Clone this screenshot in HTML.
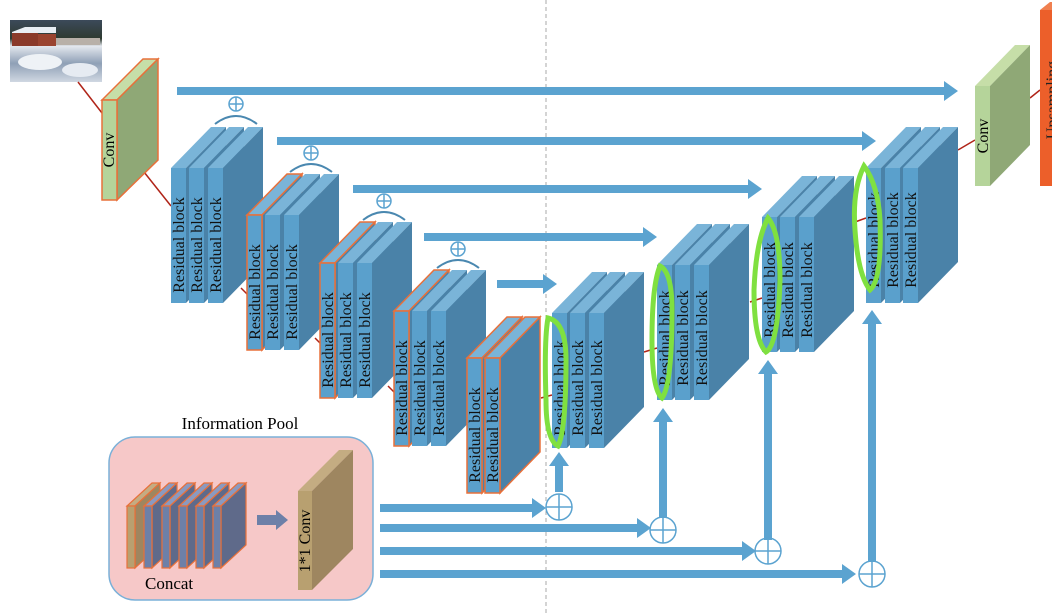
<!DOCTYPE html>
<html><head><meta charset="utf-8"><style>
html,body{margin:0;padding:0;background:#fff;}
svg{display:block;font-family:"Liberation Serif",serif;}
</style></head><body>
<svg width="1052" height="616" viewBox="0 0 1052 616" xmlns="http://www.w3.org/2000/svg">
<defs>
<linearGradient id="sky" x1="0" y1="0" x2="0" y2="1">
<stop offset="0" stop-color="#3c4a5a"/><stop offset="0.3" stop-color="#2e3a30"/><stop offset="0.42" stop-color="#e4e8ee"/><stop offset="0.7" stop-color="#8fa0b6"/><stop offset="1" stop-color="#d0d8e2"/></linearGradient>
</defs>
<line x1="546" y1="0" x2="546" y2="616" stroke="#aaa" stroke-dasharray="4,3" stroke-width="1"/>
<!-- image -->
<rect x="10" y="20" width="92" height="62" fill="url(#sky)"/>
<rect x="12" y="32" width="26" height="14" fill="#8a3a2a"/>
<polygon points="12,32 25,27 56,27 56,33 12,33" fill="#e8eef4"/>
<rect x="38" y="34" width="18" height="12" fill="#9a4430"/>
<rect x="56" y="38" width="44" height="7" fill="#b8b0a8"/>
<ellipse cx="40" cy="62" rx="22" ry="8" fill="#eef2f6"/>
<ellipse cx="80" cy="70" rx="18" ry="7" fill="#e6ebf2"/>
<!-- red lines -->
<g stroke="#b02418" stroke-width="1.5" fill="none">
<line x1="78" y1="82" x2="102" y2="113"/>
<line x1="144" y1="172" x2="171" y2="206"/>
<line x1="241" y1="288" x2="247" y2="294"/>
<line x1="315" y1="338" x2="320" y2="343"/>
<line x1="388" y1="386" x2="394" y2="392"/>
<line x1="541" y1="398" x2="552" y2="395"/>
<line x1="644" y1="352" x2="657" y2="348"/>
<line x1="750" y1="302" x2="762" y2="298"/>
<line x1="855" y1="222" x2="866" y2="218"/>
<line x1="958" y1="150" x2="975" y2="140"/>
<line x1="1030" y1="98" x2="1040" y2="90"/>
</g>
<!-- left conv -->
<g stroke="#e8703a" stroke-width="1.5">
<polygon points="102,100 143,59 158,59 117,100" fill="#c6dea8"/>
<polygon points="117,100 158,59 158,160 117,200" fill="#8fa876"/>
<rect x="102" y="100" width="15" height="100" fill="#b5d49a"/>
</g>
<text x="0" y="0" font-size="16" transform="translate(114,150) rotate(-90)" text-anchor="middle">Conv</text>
<!-- right conv -->
<polygon points="975,86 1015,45 1030,45 990,86" fill="#c6dea8"/>
<polygon points="990,86 1030,45 1030,145 990,186" fill="#8fa876"/>
<rect x="975" y="86" width="15" height="100" fill="#b5d49a"/>
<text font-size="16" transform="translate(988,136) rotate(-90)" text-anchor="middle">Conv</text>
<!-- upsampling -->
<polygon points="1040,10 1050,2 1052,2 1052,10" fill="#f08050"/>
<rect x="1040" y="10" width="12" height="176" fill="#ec5f2a"/>
<text font-size="16" transform="translate(1057,100) rotate(-90)" text-anchor="middle" fill="#222">Upsampling</text>

<!-- arrows -->
<g fill="#5ba3d0">
<polygon points="177,87 944,87 944,81 958,91 944,101 944,95 177,95"/>
<polygon points="277,137 862,137 862,131 876,141 862,151 862,145 277,145"/>
<polygon points="353,185 748,185 748,179 762,189 748,199 748,193 353,193"/>
<polygon points="424,233 643,233 643,227 657,237 643,247 643,241 424,241"/>
<polygon points="497,280 543,280 543,274 557,284 543,294 543,288 497,288"/>
<polygon points="380,504 532,504 532,498 546,508 532,518 532,512 380,512"/>
<polygon points="380,524 637,524 637,518 651,528 637,538 637,532 380,532"/>
<polygon points="380,547 742,547 742,541 756,551 742,561 742,555 380,555"/>
<polygon points="380,570 842,570 842,564 856,574 842,584 842,578 380,578"/>
<polygon points="555,492 555,466 549,466 559,452 569,466 563,466 563,492"/>
<polygon points="659,518 659,422 653,422 663,408 673,422 667,422 667,518"/>
<polygon points="764,540 764,374 758,374 768,360 778,374 772,374 772,540"/>
<polygon points="868,562 868,324 862,324 872,310 882,324 876,324 876,562"/>
</g>
<g fill="none" stroke="#5ba3d0" stroke-width="1.5">
<circle cx="559" cy="507" r="13"/><line x1="546" y1="507" x2="572" y2="507"/><line x1="559" y1="494" x2="559" y2="520"/>
<circle cx="663" cy="530" r="13"/><line x1="650" y1="530" x2="676" y2="530"/><line x1="663" y1="517" x2="663" y2="543"/>
<circle cx="768" cy="551" r="13"/><line x1="755" y1="551" x2="781" y2="551"/><line x1="768" y1="538" x2="768" y2="564"/>
<circle cx="872" cy="574" r="13"/><line x1="859" y1="574" x2="885" y2="574"/><line x1="872" y1="561" x2="872" y2="587"/>
<circle cx="236" cy="104" r="7"/><line x1="229" y1="104" x2="243" y2="104"/><line x1="236" y1="97" x2="236" y2="111"/>
<circle cx="311" cy="153" r="7"/><line x1="304" y1="153" x2="318" y2="153"/><line x1="311" y1="146" x2="311" y2="160"/>
<circle cx="384" cy="201" r="7"/><line x1="377" y1="201" x2="391" y2="201"/><line x1="384" y1="194" x2="384" y2="208"/>
<circle cx="458" cy="249" r="7"/><line x1="451" y1="249" x2="465" y2="249"/><line x1="458" y1="242" x2="458" y2="256"/>
</g>
<g fill="none" stroke="#4a88b0" stroke-width="2">
<path d="M215,124 Q236,108 257,124"/><path d="M290,172 Q311,156 332,172"/><path d="M363,220 Q384,204 405,220"/><path d="M437,268 Q458,252 479,268"/>
</g>

<!-- slabs -->
<g stroke-width="1.5">
<polygon points="171,168 211,127 226,127 186,168" fill="#7ab4d8"/><polygon points="186,168 226,127 226,262 186,303" fill="#4a82a8"/><rect x="171" y="168" width="15" height="135" fill="#5aa0cc"/>
<polygon points="189,168 229,127 244,127 204,168" fill="#7ab4d8"/><polygon points="204,168 244,127 244,262 204,303" fill="#4a82a8"/><rect x="189" y="168" width="15" height="135" fill="#5aa0cc"/>
<polygon points="208,168 248,127 263,127 223,168" fill="#7ab4d8"/><polygon points="223,168 263,127 263,262 223,303" fill="#4a82a8"/><rect x="208" y="168" width="15" height="135" fill="#5aa0cc"/>
<g stroke="#e8703a"><polygon points="247,215 287,174 302,174 262,215" fill="#7ab4d8"/><polygon points="262,215 302,174 302,309 262,350" fill="#4a82a8"/><rect x="247" y="215" width="15" height="135" fill="#5aa0cc"/></g>
<polygon points="265,215 305,174 320,174 280,215" fill="#7ab4d8"/><polygon points="280,215 320,174 320,309 280,350" fill="#4a82a8"/><rect x="265" y="215" width="15" height="135" fill="#5aa0cc"/>
<polygon points="284,215 324,174 339,174 299,215" fill="#7ab4d8"/><polygon points="299,215 339,174 339,309 299,350" fill="#4a82a8"/><rect x="284" y="215" width="15" height="135" fill="#5aa0cc"/>
<g stroke="#e8703a"><polygon points="320,263 360,222 375,222 335,263" fill="#7ab4d8"/><polygon points="335,263 375,222 375,357 335,398" fill="#4a82a8"/><rect x="320" y="263" width="15" height="135" fill="#5aa0cc"/></g>
<polygon points="338,263 378,222 393,222 353,263" fill="#7ab4d8"/><polygon points="353,263 393,222 393,357 353,398" fill="#4a82a8"/><rect x="338" y="263" width="15" height="135" fill="#5aa0cc"/>
<polygon points="357,263 397,222 412,222 372,263" fill="#7ab4d8"/><polygon points="372,263 412,222 412,357 372,398" fill="#4a82a8"/><rect x="357" y="263" width="15" height="135" fill="#5aa0cc"/>
<g stroke="#e8703a"><polygon points="394,311 434,270 449,270 409,311" fill="#7ab4d8"/><polygon points="409,311 449,270 449,405 409,446" fill="#4a82a8"/><rect x="394" y="311" width="15" height="135" fill="#5aa0cc"/></g>
<polygon points="412,311 452,270 467,270 427,311" fill="#7ab4d8"/><polygon points="427,311 467,270 467,405 427,446" fill="#4a82a8"/><rect x="412" y="311" width="15" height="135" fill="#5aa0cc"/>
<polygon points="431,311 471,270 486,270 446,311" fill="#7ab4d8"/><polygon points="446,311 486,270 486,405 446,446" fill="#4a82a8"/><rect x="431" y="311" width="15" height="135" fill="#5aa0cc"/>
<g stroke="#e8703a">
<polygon points="467,358 507,317 522,317 482,358" fill="#7ab4d8"/><polygon points="482,358 522,317 522,452 482,493" fill="#4a82a8"/><rect x="467" y="358" width="15" height="135" fill="#5aa0cc"/>
<polygon points="485,358 525,317 540,317 500,358" fill="#7ab4d8"/><polygon points="500,358 540,317 540,452 500,493" fill="#4a82a8"/><rect x="485" y="358" width="15" height="135" fill="#5aa0cc"/>
</g>
<polygon points="552,313 592,272 607,272 567,313" fill="#7ab4d8"/><polygon points="567,313 607,272 607,407 567,448" fill="#4a82a8"/><rect x="552" y="313" width="15" height="135" fill="#5aa0cc"/>
<polygon points="570,313 610,272 625,272 585,313" fill="#7ab4d8"/><polygon points="585,313 625,272 625,407 585,448" fill="#4a82a8"/><rect x="570" y="313" width="15" height="135" fill="#5aa0cc"/>
<polygon points="589,313 629,272 644,272 604,313" fill="#7ab4d8"/><polygon points="604,313 644,272 644,407 604,448" fill="#4a82a8"/><rect x="589" y="313" width="15" height="135" fill="#5aa0cc"/>
<polygon points="657,265 697,224 712,224 672,265" fill="#7ab4d8"/><polygon points="672,265 712,224 712,359 672,400" fill="#4a82a8"/><rect x="657" y="265" width="15" height="135" fill="#5aa0cc"/>
<polygon points="675,265 715,224 730,224 690,265" fill="#7ab4d8"/><polygon points="690,265 730,224 730,359 690,400" fill="#4a82a8"/><rect x="675" y="265" width="15" height="135" fill="#5aa0cc"/>
<polygon points="694,265 734,224 749,224 709,265" fill="#7ab4d8"/><polygon points="709,265 749,224 749,359 709,400" fill="#4a82a8"/><rect x="694" y="265" width="15" height="135" fill="#5aa0cc"/>
<polygon points="762,217 802,176 817,176 777,217" fill="#7ab4d8"/><polygon points="777,217 817,176 817,311 777,352" fill="#4a82a8"/><rect x="762" y="217" width="15" height="135" fill="#5aa0cc"/>
<polygon points="780,217 820,176 835,176 795,217" fill="#7ab4d8"/><polygon points="795,217 835,176 835,311 795,352" fill="#4a82a8"/><rect x="780" y="217" width="15" height="135" fill="#5aa0cc"/>
<polygon points="799,217 839,176 854,176 814,217" fill="#7ab4d8"/><polygon points="814,217 854,176 854,311 814,352" fill="#4a82a8"/><rect x="799" y="217" width="15" height="135" fill="#5aa0cc"/>
<polygon points="866,168 906,127 921,127 881,168" fill="#7ab4d8"/><polygon points="881,168 921,127 921,262 881,303" fill="#4a82a8"/><rect x="866" y="168" width="15" height="135" fill="#5aa0cc"/>
<polygon points="885,168 925,127 940,127 900,168" fill="#7ab4d8"/><polygon points="900,168 940,127 940,262 900,303" fill="#4a82a8"/><rect x="885" y="168" width="15" height="135" fill="#5aa0cc"/>
<polygon points="903,168 943,127 958,127 918,168" fill="#7ab4d8"/><polygon points="918,168 958,127 958,262 918,303" fill="#4a82a8"/><rect x="903" y="168" width="15" height="135" fill="#5aa0cc"/>
</g>
<g font-size="16" text-anchor="middle" fill="#111">
<text transform="translate(184,245) rotate(-90)">Residual block</text>
<text transform="translate(202,245) rotate(-90)">Residual block</text>
<text transform="translate(221,245) rotate(-90)">Residual block</text>
<text transform="translate(260,292) rotate(-90)">Residual block</text>
<text transform="translate(278,292) rotate(-90)">Residual block</text>
<text transform="translate(297,292) rotate(-90)">Residual block</text>
<text transform="translate(333,340) rotate(-90)">Residual block</text>
<text transform="translate(351,340) rotate(-90)">Residual block</text>
<text transform="translate(370,340) rotate(-90)">Residual block</text>
<text transform="translate(407,388) rotate(-90)">Residual block</text>
<text transform="translate(425,388) rotate(-90)">Residual block</text>
<text transform="translate(444,388) rotate(-90)">Residual block</text>
<text transform="translate(480,435) rotate(-90)">Residual block</text>
<text transform="translate(498,435) rotate(-90)">Residual block</text>
<text transform="translate(565,388) rotate(-90)">Residual block</text>
<text transform="translate(583,388) rotate(-90)">Residual block</text>
<text transform="translate(602,388) rotate(-90)">Residual block</text>
<text transform="translate(670,338) rotate(-90)">Residual block</text>
<text transform="translate(688,338) rotate(-90)">Residual block</text>
<text transform="translate(707,338) rotate(-90)">Residual block</text>
<text transform="translate(775,290) rotate(-90)">Residual block</text>
<text transform="translate(793,290) rotate(-90)">Residual block</text>
<text transform="translate(812,290) rotate(-90)">Residual block</text>
<text transform="translate(879,240) rotate(-90)">Residual block</text>
<text transform="translate(898,240) rotate(-90)">Residual block</text>
<text transform="translate(916,240) rotate(-90)">Residual block</text>
</g>
<!-- green loops -->
<g fill="none" stroke="#7fe040" stroke-width="5">
<path d="M548,318 Q566,322 566,360 Q566,430 558,446 Q546,440 546,400 Q544,340 548,318 Z"/>
<path d="M660,266 Q672,272 672,310 Q672,385 662,398 Q652,390 652,340 Q652,285 660,266 Z"/>
<path d="M768,218 Q780,232 780,280 Q778,345 766,352 Q754,340 754,290 Q756,240 768,218 Z"/>
<path d="M864,166 Q878,185 880,220 Q882,280 870,290 Q858,275 855,230 Q852,190 864,166 Z"/>
</g>

<!-- information pool -->
<text x="240" y="429" font-size="17" text-anchor="middle">Information Pool</text>
<rect x="109" y="437" width="264" height="163" rx="26" fill="#f6c8c8" stroke="#7ab0d8" stroke-width="1.5"/>
<g stroke="#e8703a" stroke-width="1.2">
<polygon points="127,506 152,483 160,483 135,506" fill="#c4ac82"/><polygon points="135,506 160,483 160,545 135,568" fill="#9e8660"/><rect x="127" y="506" width="8" height="62" fill="#b8a070"/>
<polygon points="144,506 169,483 177,483 152,506" fill="#8a9ac0"/><polygon points="152,506 177,483 177,545 152,568" fill="#5f6a8a"/><rect x="144" y="506" width="8" height="62" fill="#6d80a8"/>
<polygon points="162,506 187,483 195,483 170,506" fill="#8a9ac0"/><polygon points="170,506 195,483 195,545 170,568" fill="#5f6a8a"/><rect x="162" y="506" width="8" height="62" fill="#6d80a8"/>
<polygon points="179,506 204,483 212,483 187,506" fill="#8a9ac0"/><polygon points="187,506 212,483 212,545 187,568" fill="#5f6a8a"/><rect x="179" y="506" width="8" height="62" fill="#6d80a8"/>
<polygon points="196,506 221,483 229,483 204,506" fill="#8a9ac0"/><polygon points="204,506 229,483 229,545 204,568" fill="#5f6a8a"/><rect x="196" y="506" width="8" height="62" fill="#6d80a8"/>
<polygon points="213,506 238,483 246,483 221,506" fill="#8a9ac0"/><polygon points="221,506 246,483 246,545 221,568" fill="#5f6a8a"/><rect x="213" y="506" width="8" height="62" fill="#6d80a8"/>
</g>
<text x="145" y="589" font-size="17">Concat</text>
<polygon points="257,515 276,515 276,510 288,520 276,530 276,525 257,525" fill="#6d80a8"/>
<polygon points="298,491 339,450 353,450 312,491" fill="#c4ac82"/>
<polygon points="312,491 353,450 353,549 312,590" fill="#9e8660"/>
<rect x="298" y="491" width="14" height="99" fill="#b8a070"/>
<text font-size="16" text-anchor="middle" transform="translate(310,541) rotate(-90)">1*1 Conv</text>
</svg>
</body></html>
